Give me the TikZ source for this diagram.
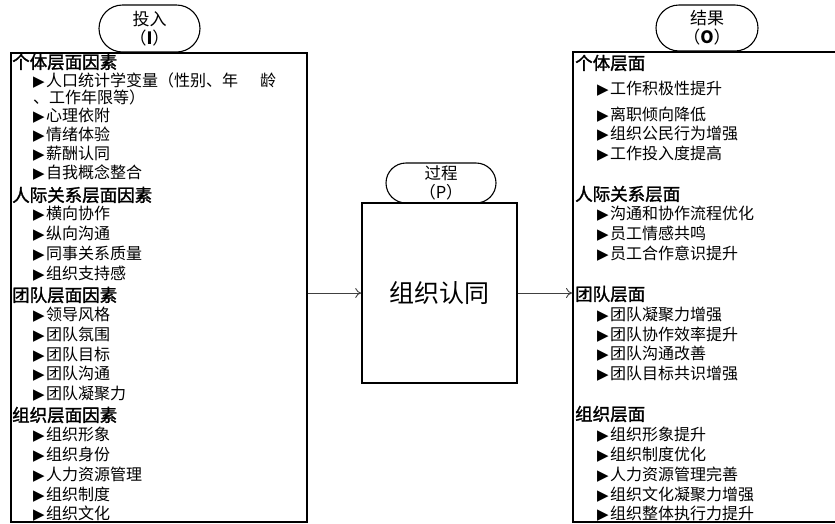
\documentclass[tikz,border=0pt]{standalone}
\usepackage{fontspec}
\setmainfont{Noto Sans CJK SC}
\newfontfamily\headfont{Noto Sans CJK SC}[FakeBold=1.6]
\newfontfamily\trifont{DejaVu Sans}
\usetikzlibrary{shapes.misc,arrows.meta}
\newcommand{\tri}{{\trifont\fontsize{15}{15}\selectfont ▶}\hspace{1.5pt}}

\begin{document}
\begin{tikzpicture}[x=1pt, y=-1pt,
  box/.style={draw, line width=1.6pt, inner sep=0pt},
  pill/.style={draw, rounded rectangle, line width=1.1pt, fill=white, align=center, inner sep=0pt,
    font=\fontsize{17}{19}\selectfont},
  head/.style={anchor=west, inner sep=0pt, font=\headfont\fontsize{17.5}{17.5}\selectfont},
  item/.style={anchor=west, inner sep=0pt, font=\fontsize{16}{16}\selectfont},
  arr/.style={-{To[length=6pt, width=10pt]}, line width=0.9pt, black!75}]
  \useasboundingbox (0,0) rectangle (835,523);
  \clip (0,0) rectangle (835,523);

  % Input column
  \node[pill, minimum width=101pt, minimum height=47pt] (inlab) at (149.5,28.5) {投入\\（\textbf{I}）};
  \node[box, anchor=north west, minimum width=296pt, minimum height=469pt] (inbox) at (10,52) {};

  \node[head] (ih1) at (12,62) {个体层面因素};
  \node[item, anchor=north west, align=left, font=\fontsize{16}{16.5}\selectfont] (ia1) at (33,73)
    {\tri 人口统计学变量（性别、年\hspace{22pt}龄\\、工作年限等）};
  \node[item] (ia2) at (33,116) {\tri 心理依附};
  \node[item] (ia3) at (33,135) {\tri 情绪体验};
  \node[item] (ia4) at (33,154) {\tri 薪酬认同};
  \node[item] (ia5) at (33,173) {\tri 自我概念整合};
  \node[head] (ih2) at (12,195) {人际关系层面因素};
  \node[item] (ib1) at (33,214) {\tri 横向协作};
  \node[item] (ib2) at (33,234) {\tri 纵向沟通};
  \node[item] (ib3) at (33,254) {\tri 同事关系质量};
  \node[item] (ib4) at (33,274) {\tri 组织支持感};
  \node[head] (ih3) at (12,295) {团队层面因素};
  \node[item] (ic1) at (33,315) {\tri 领导风格};
  \node[item] (ic2) at (33,335) {\tri 团队氛围};
  \node[item] (ic3) at (33,355) {\tri 团队目标};
  \node[item] (ic4) at (33,374) {\tri 团队沟通};
  \node[item] (ic5) at (33,394) {\tri 团队凝聚力};
  \node[head] (ih4) at (12,415) {组织层面因素};
  \node[item] (id1) at (33,435) {\tri 组织形象};
  \node[item] (id2) at (33,455) {\tri 组织身份};
  \node[item] (id3) at (33,475) {\tri 人力资源管理};
  \node[item] (id4) at (33,495) {\tri 组织制度};
  \node[item] (id5) at (33,514) {\tri 组织文化};

  % Process
  \node[pill, minimum width=110pt, minimum height=40pt, font=\fontsize{16.5}{19}\selectfont] (plab) at (441,183) {过程\\（P）};
  \node[box, minimum width=155pt, minimum height=180pt, font=\fontsize{25}{25}\selectfont] (proc) at (439.5,293) {组织认同};

  % Output column
  \node[pill, minimum width=102pt, minimum height=46pt] (outlab) at (707,28) {结果\\（\textbf{O}）};
  \node[box, anchor=north west, minimum width=290pt, minimum height=470pt] (outbox) at (572,51) {};

  \node[head] (oh1) at (575,63) {个体层面};
  \node[item] (oa1) at (597,89) {\tri 工作积极性提升};
  \node[item] (oa2) at (597,115) {\tri 离职倾向降低};
  \node[item] (oa3) at (597,134) {\tri 组织公民行为增强};
  \node[item] (oa4) at (597,154) {\tri 工作投入度提高};
  \node[head] (oh2) at (575,194) {人际关系层面};
  \node[item] (ob1) at (597,214) {\tri 沟通和协作流程优化};
  \node[item] (ob2) at (597,234) {\tri 员工情感共鸣};
  \node[item] (ob3) at (597,254) {\tri 员工合作意识提升};
  \node[head] (oh3) at (575,294) {团队层面};
  \node[item] (oc1) at (597,315) {\tri 团队凝聚力增强};
  \node[item] (oc2) at (597,335) {\tri 团队协作效率提升};
  \node[item] (oc3) at (597,354) {\tri 团队沟通改善};
  \node[item] (oc4) at (597,374) {\tri 团队目标共识增强};
  \node[head] (oh4) at (575,414) {组织层面};
  \node[item] (od1) at (597,435) {\tri 组织形象提升};
  \node[item] (od2) at (597,455) {\tri 组织制度优化};
  \node[item] (od3) at (597,475) {\tri 人力资源管理完善};
  \node[item] (od4) at (597,495) {\tri 组织文化凝聚力增强};
  \node[item] (od5) at (597,514) {\tri 组织整体执行力提升};

  % Connectors
  \draw[arr] (inbox.east |- proc.west) -- (proc.west);
  \draw[arr] (proc.east) -- (outbox.west |- proc.east);
\end{tikzpicture}
\end{document}
